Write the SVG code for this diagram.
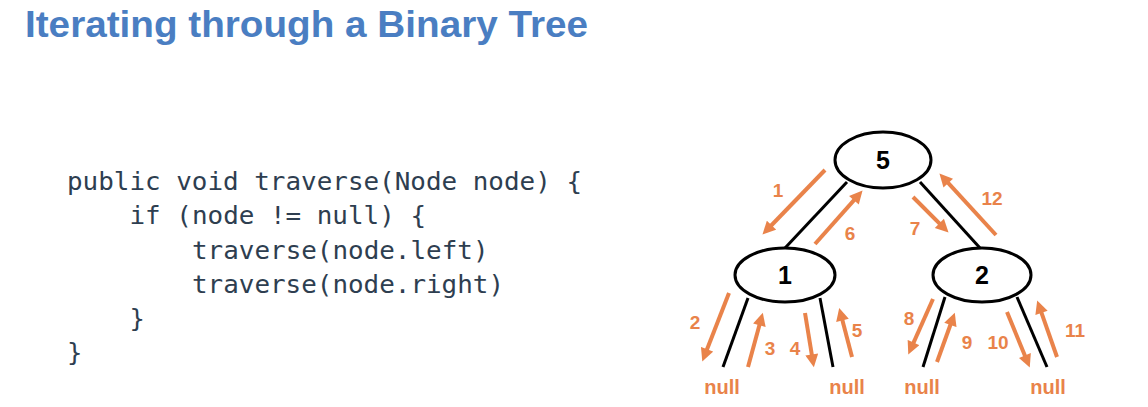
<svg xmlns="http://www.w3.org/2000/svg" width="1148" height="407" viewBox="0 0 1148 407">
<defs>
<style>
.title{font-family:"Liberation Sans",Arial,sans-serif;font-weight:bold;font-size:37px;fill:#4A7EC2}
.code{font-family:"DejaVu Sans Mono","Liberation Mono",monospace;font-size:25.5px;fill:#2E3E50}
.node ellipse{fill:#fff;stroke:#000;stroke-width:3}
.node text{font-family:"Liberation Sans",Arial,sans-serif;font-weight:bold;font-size:25px;fill:#000;text-anchor:middle}
.edge{stroke:#000;stroke-width:3;fill:none}
.arr{stroke:#E9834A;stroke-width:4;fill:none;marker-end:url(#ah)}
.lbl{font-family:"Liberation Sans",Arial,sans-serif;font-weight:bold;font-size:19px;fill:#E9834A;text-anchor:middle}
.null{font-family:"Liberation Sans",Arial,sans-serif;font-weight:bold;font-size:20px;fill:#E9834A;text-anchor:middle}
</style>
<marker id="ah" viewBox="0 0 10 10" markerWidth="14" markerHeight="13" refX="3" refY="5" orient="auto" markerUnits="userSpaceOnUse">
<path d="M0,0 L10,5 L0,10 z" fill="#E9834A"/>
</marker>
</defs>
<rect width="1148" height="407" fill="#fff"/>
<text class="title" x="25" y="37" textLength="563" lengthAdjust="spacingAndGlyphs">Iterating through a Binary Tree</text>
<g id="code">
<text class="code" x="67" y="190" textLength="515" lengthAdjust="spacingAndGlyphs">public void traverse(Node node) {</text>
<text class="code" x="129.5" y="224" textLength="296.5" lengthAdjust="spacingAndGlyphs">if (node != null) {</text>
<text class="code" x="192" y="259" textLength="296.5" lengthAdjust="spacingAndGlyphs">traverse(node.left)</text>
<text class="code" x="192" y="293" textLength="312" lengthAdjust="spacingAndGlyphs">traverse(node.right)</text>
<text class="code" x="129.5" y="327">}</text>
<text class="code" x="67" y="361">}</text>
</g>
<g id="connectors">
<line class="edge" x1="847" y1="182" x2="785" y2="248"/>
<line class="edge" x1="920" y1="182" x2="980" y2="248"/>
<line class="edge" x1="748" y1="298" x2="723" y2="367"/>
<line class="edge" x1="820" y1="298" x2="833" y2="367"/>
<line class="edge" x1="945" y1="297" x2="923" y2="367"/>
<line class="edge" x1="1017" y1="297" x2="1047" y2="367"/>
<line class="arr" x1="825" y1="170" x2="768.8" y2="228"/>
<line class="arr" x1="815" y1="244" x2="856.5" y2="197.3"/>
<line class="arr" x1="913" y1="197" x2="942.1" y2="226.1"/>
<line class="arr" x1="996" y1="235" x2="945.6" y2="180.2"/>
<line class="arr" x1="729" y1="293" x2="705.6" y2="352.9"/>
<line class="arr" x1="748" y1="367" x2="760.4" y2="321.5"/>
<line class="arr" x1="805" y1="313" x2="812.4" y2="358.3"/>
<line class="arr" x1="852" y1="357" x2="841.5" y2="316.7"/>
<line class="arr" x1="933" y1="299" x2="912" y2="346.1"/>
<line class="arr" x1="937" y1="362" x2="951.7" y2="321.2"/>
<line class="arr" x1="1007" y1="312" x2="1026.3" y2="359.1"/>
<line class="arr" x1="1057" y1="357" x2="1040.2" y2="309.1"/>
<text class="lbl" x="778" y="197">1</text>
<text class="lbl" x="850" y="240">6</text>
<text class="lbl" x="915" y="235">7</text>
<text class="lbl" x="992" y="205">12</text>
<text class="lbl" x="695" y="329">2</text>
<text class="lbl" x="770" y="355">3</text>
<text class="lbl" x="795" y="355">4</text>
<text class="lbl" x="857" y="337">5</text>
<text class="lbl" x="909" y="325">8</text>
<text class="lbl" x="967" y="349">9</text>
<text class="lbl" x="998" y="349">10</text>
<text class="lbl" x="1075" y="337">11</text>
</g>
<g id="node5" class="node"><ellipse cx="883" cy="160" rx="48" ry="28"/><text x="883" y="169">5</text></g>
<g id="node1" class="node"><ellipse cx="785" cy="275" rx="50" ry="27"/><text x="785" y="284">1</text></g>
<g id="node2" class="node"><ellipse cx="982" cy="275" rx="49" ry="27"/><text x="982" y="284">2</text></g>
<g id="null1"><text class="null" x="722" y="394">null</text></g>
<g id="null2"><text class="null" x="847" y="394">null</text></g>
<g id="null3"><text class="null" x="922" y="394">null</text></g>
<g id="null4"><text class="null" x="1048" y="394">null</text></g>
</svg>
